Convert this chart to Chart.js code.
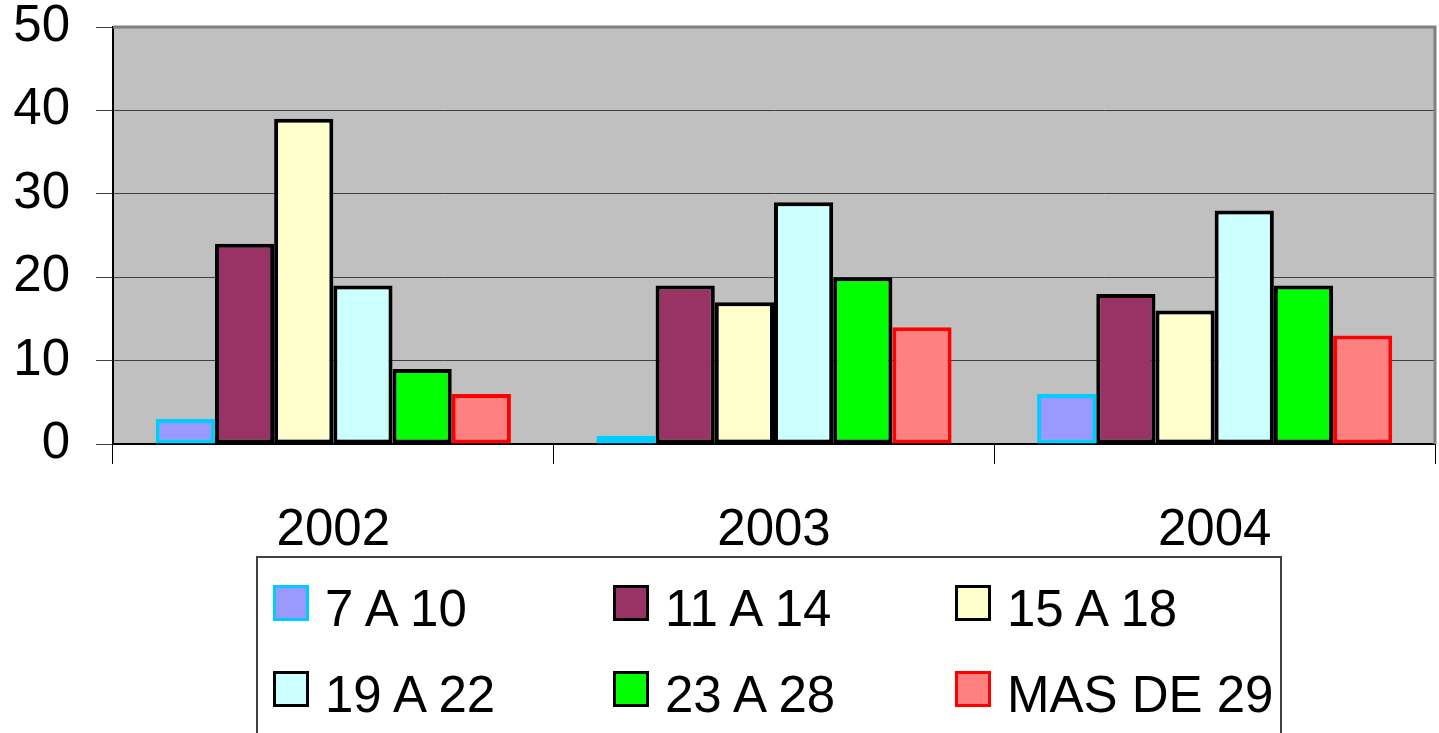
<!DOCTYPE html>
<html>
<head>
<meta charset="utf-8">
<script src="https://cdn.jsdelivr.net/npm/chart.js@4/dist/chart.umd.min.js"></script>
<style>
  html, body { margin: 0; padding: 0; background: #fff; }
  #wrap { position: relative; width: 1439px; height: 733px; overflow: hidden; }
  #c { position: absolute; left: 0; top: 0; }
  #legend { position: absolute; left: 256px; top: 556px; width: 1026px; height: 200px;
            border: 2px solid #404040; background: #fff; box-sizing: border-box; }
  .item { position: absolute; font-family: "Liberation Sans", Arial, sans-serif; font-size: 51px;
          line-height: 51px; color: #000; white-space: nowrap; }
  .sw { position: absolute; width: 36px; height: 36px; box-sizing: border-box; border: 3px solid #000; }
  .lbl { position: absolute; left: 52px; top: -2px; }
</style>
</head>
<body>
<div id="wrap">
  <canvas id="c" width="1439" height="733"></canvas>
  <div id="legend"></div>
</div>
<script>
const categories = ['2002', '2003', '2004'];
const seriesNames = ['7 A 10', '11 A 14', '15 A 18', '19 A 22', '23 A 28', 'MAS DE 29'];
const s7a10   = [3, 1, 6];
const s11a14  = [24, 19, 18];
const s15a18  = [39, 17, 16];
const s19a22  = [19, 29, 28];
const s23a28  = [9, 20, 19];
const sMas29  = [6, 14, 13];
const yTicks = [0, 10, 20, 30, 40, 50];

const fills   = ['#9999FF', '#993366', '#FFFFCC', '#CCFFFF', '#00FF00', '#FF8080'];
const borders = ['#00CCFF', '#000000', '#000000', '#000000', '#000000', '#FF0000'];
const seriesData = [s7a10, s11a14, s15a18, s19a22, s23a28, sMas29];

const plotBg = {
  id: 'plotBg',
  beforeDraw(chart) {
    const {ctx, chartArea: a} = chart;
    ctx.save();
    ctx.fillStyle = '#C0C0C0';
    ctx.fillRect(a.left, a.top, a.right - a.left, a.bottom - a.top);
    ctx.restore();
  },
  afterDatasetsDraw(chart) {
    const {ctx, chartArea: a} = chart;
    ctx.save();
    ctx.strokeStyle = '#808080';
    ctx.lineWidth = 3;
    ctx.beginPath();
    ctx.moveTo(a.left, a.top);
    ctx.lineTo(a.right, a.top);
    ctx.lineTo(a.right, a.bottom);
    ctx.stroke();
    ctx.restore();
  }
};

const font = { family: '"Liberation Sans", Arial, sans-serif', size: 51, lineHeight: 1 };

new Chart(document.getElementById('c'), {
  type: 'bar',
  data: {
    labels: categories,
    datasets: seriesNames.map((n, i) => ({
      label: n,
      data: seriesData[i],
      backgroundColor: fills[i],
      borderColor: borders[i],
      borderWidth: 4,
      borderSkipped: false,
      barPercentage: 1,
      categoryPercentage: 0.806
    }))
  },
  options: {
    responsive: false,
    animation: false,
    layout: { padding: { top: 27, right: 4, bottom: 0, left: 0 } },
    plugins: { legend: { display: false }, tooltip: { enabled: false } },
    scales: {
      x: {
        grid: { offset: true, drawOnChartArea: false, tickLength: 20, color: '#000', lineWidth: 1 },
        border: { color: '#000', width: 2 },
        ticks: { color: '#000', font, padding: 41, maxRotation: 0 },
        afterFit(s) { s.height = 289; s.paddingLeft = 0; s.paddingRight = 0; s.paddingTop = 0; s.paddingBottom = 0; }
      },
      y: {
        min: 0, max: 50,
        afterBuildTicks(s) { s.ticks = yTicks.map(v => ({ value: v })); },
        grid: { color: '#404040', lineWidth: 1, tickLength: 17 },
        border: { color: '#000', width: 2 },
        ticks: { color: '#000', font, padding: 26 },
        afterFit(s) { s.width = 113; s.paddingTop = 0; s.paddingBottom = 0; s.paddingLeft = 0; s.paddingRight = 0; }
      }
    }
  },
  plugins: [plotBg]
});

// HTML legend (3 columns x 2 rows)
const legend = document.getElementById('legend');
const colX = [15, 355, 697];
const rowY = [27, 113];
seriesNames.forEach((n, i) => {
  const it = document.createElement('div');
  it.className = 'item';
  it.style.left = colX[i % 3] + 'px';
  it.style.top = rowY[Math.floor(i / 3)] + 'px';
  const sw = document.createElement('div');
  sw.className = 'sw';
  sw.style.background = fills[i];
  sw.style.borderColor = borders[i];
  const lb = document.createElement('span');
  lb.className = 'lbl';
  lb.textContent = n;
  it.appendChild(sw);
  it.appendChild(lb);
  legend.appendChild(it);
});
</script>
</body>
</html>
